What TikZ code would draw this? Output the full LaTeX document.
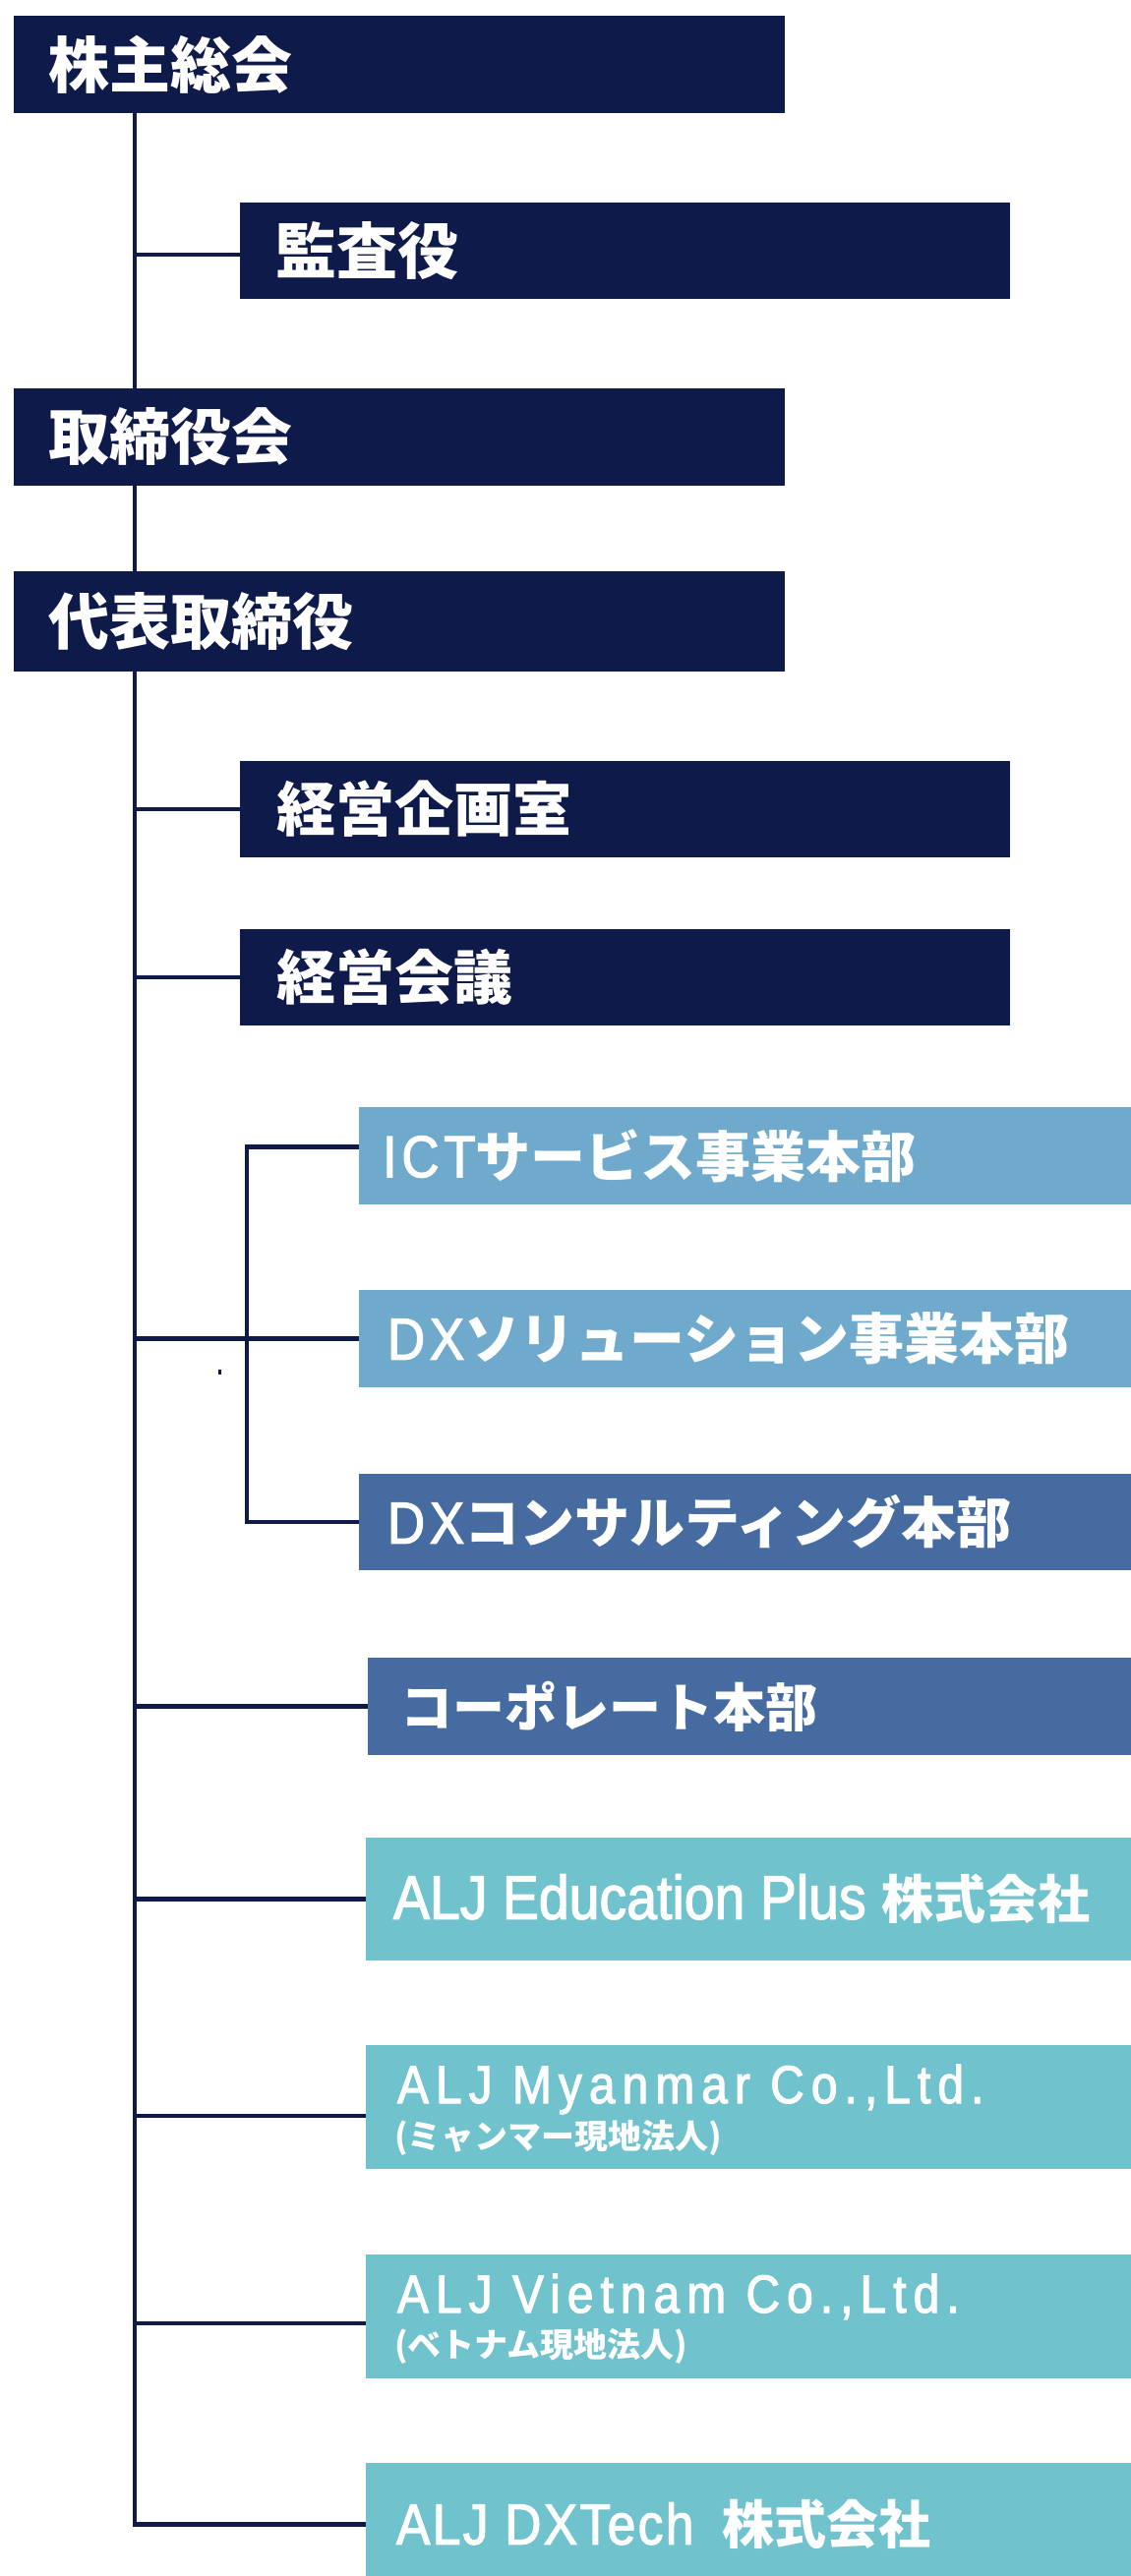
\documentclass[tikz,border=0pt]{standalone}
\usepackage{fontspec}
\newfontfamily\jpf{Noto Sans CJK JP}
\newfontfamily\laf{Liberation Sans}[FakeStretch=0.88,FakeBold=2]
\newfontfamily\lafm{Liberation Sans}[FakeStretch=0.88,FakeBold=2,LetterSpace=8]
\newfontfamily\lafd{Liberation Sans}[FakeStretch=0.88,FakeBold=2,LetterSpace=4]
\newfontfamily\lafs{Liberation Sans}[FakeStretch=0.88,FakeBold=2,LetterSpace=13]
\definecolor{navy}{HTML}{0E1A4A}
\definecolor{lblue}{HTML}{6FAACC}
\definecolor{mblue}{HTML}{466BA0}
\definecolor{teal}{HTML}{70C2CC}
\newcommand{\topf}{\jpf\bfseries\fontsize{31}{37}\selectfont}
\newcommand{\secf}{\jpf\bfseries\fontsize{30}{36}\selectfont}
\newcommand{\lowj}{\jpf\bfseries\fontsize{28}{34}\selectfont}
\newcommand{\lowl}{\lafm\fontsize{30}{36}\selectfont}
\begin{document}
\begin{tikzpicture}[x=0.5pt,y=-0.5pt,
  box/.style={rectangle, inner sep=0pt, outer sep=0pt, anchor=north west, draw=none},
  lbl/.style={anchor=west, inner sep=0pt, outer sep=0pt, text=white},
  blbl/.style={anchor=base west, inner sep=0pt, outer sep=0pt, text=white},
  conn/.style={draw=navy, line width=2.2pt}]
\useasboundingbox (0,0) rectangle (1150,2620);
\clip (0,0) rectangle (1150,2620);
\fill[white] (0,0) rectangle (1150,2620);

% boxes
\node[box, fill=navy, minimum width=392pt, minimum height=49.5pt] (kabu) at (14,16) {};
\node[box, fill=navy, minimum width=391.5pt, minimum height=49pt] (kansa) at (244,206) {};
\node[box, fill=navy, minimum width=392pt, minimum height=49.5pt] (tori) at (14,395) {};
\node[box, fill=navy, minimum width=392pt, minimum height=51pt] (daihyo) at (14,581) {};
\node[box, fill=navy, minimum width=391.5pt, minimum height=49pt] (kikaku) at (244,774) {};
\node[box, fill=navy, minimum width=391.5pt, minimum height=49pt] (kaigi) at (244,945) {};
\node[box, fill=lblue, minimum width=400pt, minimum height=49.5pt] (ict) at (365,1126) {};
\node[box, fill=lblue, minimum width=400pt, minimum height=49.5pt] (dxs) at (365,1312) {};
\node[box, fill=mblue, minimum width=400pt, minimum height=49pt] (dxc) at (365,1499) {};
\node[box, fill=mblue, minimum width=400pt, minimum height=49.5pt] (corp) at (373.6,1686) {};
\node[box, fill=teal, minimum width=400pt, minimum height=62.5pt] (edu) at (372,1869) {};
\node[box, fill=teal, minimum width=400pt, minimum height=63pt] (mya) at (372,2080) {};
\node[box, fill=teal, minimum width=400pt, minimum height=63pt] (vie) at (372,2293) {};
\node[box, fill=teal, minimum width=400pt, minimum height=62.5pt] (dxt) at (372,2505) {};

% labels
\node[lbl, font=\topf] (kabu-l) at ([xshift=17.5pt]kabu.west) {株主総会};
\node[lbl, font=\topf] (kansa-l) at ([xshift=18pt]kansa.west) {監査役};
\node[lbl, font=\topf] (tori-l) at ([xshift=17.5pt]tori.west) {取締役会};
\node[lbl, font=\topf] (daihyo-l) at ([xshift=17.5pt]daihyo.west) {代表取締役};
\node[lbl, font=\secf] (kikaku-l) at ([xshift=18.5pt]kikaku.west) {経営企画室};
\node[lbl, font=\secf] (kaigi-l) at ([xshift=18.5pt]kaigi.west) {経営会議};
\node[lbl] (ict-l) at ([xshift=12pt]ict.west) {{\lowl ICT}{\lowj サービス事業本部}};
\node[lbl] (dxs-l) at ([xshift=14.5pt]dxs.west) {{\lowl DX}{\lowj ソリューション事業本部}};
\node[lbl] (dxc-l) at ([xshift=14.5pt]dxc.west) {{\lowl DX}{\lowj コンサルティング本部}};
\node[lbl] (corp-l) at ([xshift=17pt]corp.west) {{\jpf\bfseries\fontsize{26.5}{32}\selectfont コーポレート本部}};
\node[lbl] (edu-l) at ([xshift=14pt]edu.west) {{\laf\fontsize{31.5}{38}\selectfont ALJ Education Plus }{\jpf\bfseries\fontsize{26.5}{32}\selectfont 株式会社}};
\node[blbl] (mya-l) at ([xshift=16pt,yshift=-29.5pt]mya.north west) {\lafs\fontsize{27.2}{32}\selectfont ALJ Myanmar Co.,Ltd.};
\node[blbl] (mya-s) at ([xshift=14.5pt,yshift=-52.75pt]mya.north west) {\jpf\bfseries\fontsize{17}{20}\selectfont (ミャンマー現地法人)};
\node[blbl] (vie-l) at ([xshift=16pt,yshift=-29.5pt]vie.north west) {\lafs\fontsize{27.2}{32}\selectfont ALJ Vietnam Co.,Ltd.};
\node[blbl] (vie-s) at ([xshift=14.5pt,yshift=-52.25pt]vie.north west) {\jpf\bfseries\fontsize{17}{20}\selectfont (ベトナム現地法人)};
\node[lbl] (dxt-l) at ([xshift=15.5pt]dxt.west) {{\lafd\fontsize{29.3}{35}\selectfont ALJ DXTech\hspace{6pt} }{\jpf\bfseries\fontsize{26.5}{32}\selectfont 株式会社}};

% spine coordinates
\coordinate (sp) at (137,0);
\coordinate (sp2) at (251,0);
\coordinate (kansa-c) at ([yshift=-2pt]kansa.west);
\coordinate (ict-c) at ([yshift=4.5pt]ict.west);
\coordinate (mya-c) at ([yshift=-4.5pt]mya.west);
\coordinate (vie-c) at ([yshift=-3.5pt]vie.west);

% connectors
\draw[conn] (kabu.south -| sp) -- (tori.north -| sp);
\draw[conn] (kansa-c -| sp) -- (kansa-c);
\draw[conn] (tori.south -| sp) -- (daihyo.north -| sp);
\draw[conn] (daihyo.south -| sp) -- (dxt.west -| sp) -- (dxt.west);
\draw[conn] (kikaku.west -| sp) -- (kikaku.west);
\draw[conn] (kaigi.west -| sp) -- (kaigi.west);
\draw[conn] (dxs.west -| sp) -- (dxs.west);
\draw[conn] (ict-c) -- (ict-c -| sp2) -- (dxc.west -| sp2) -- (dxc.west);
\draw[conn] (corp.west -| sp) -- (corp.west);
\draw[conn] (edu.west -| sp) -- (edu.west);
\draw[conn] (mya-c -| sp) -- (mya-c);
\draw[conn] (vie-c -| sp) -- (vie-c);
\fill[navy] (222,1393) rectangle (224.5,1398);
\end{tikzpicture}
\end{document}
